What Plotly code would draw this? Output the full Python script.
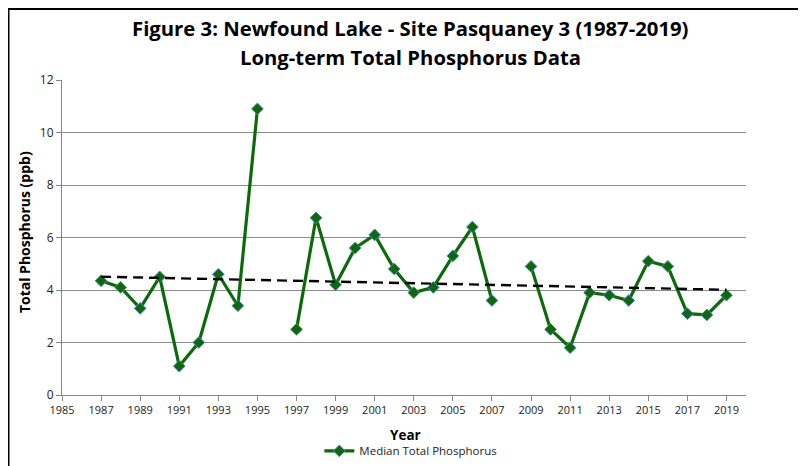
import numpy as np
import plotly.graph_objects as go

years = list(range(1987, 2020))
median_tp = [4.35, 4.1, 3.3, 4.5, 1.1, 2.0, 4.6, 3.4, 10.9, None,
             2.5, 6.75, 4.2, 5.6, 6.1, 4.8, 3.9, 4.1, 5.3, 6.4,
             3.6, None, 4.9, 2.5, 1.8, 3.9, 3.8, 3.6, 5.1, 4.9,
             3.1, 3.05, 3.8]
x_ticks = list(range(1985, 2021, 2))
y_ticks = [0, 2, 4, 6, 8, 10, 12]
title_lines = ["Figure 3: Newfound Lake - Site Pasquaney 3 (1987-2019)",
               "Long-term Total Phosphorus Data"]
x_title = "Year"
y_title = "Total Phosphorus (ppb)"

# linear trendline fit from the data
xv = np.array([y for y, v in zip(years, median_tp) if v is not None], dtype=float)
yv = np.array([v for v in median_tp if v is not None], dtype=float)
slope, intercept = np.polyfit(xv, yv, 1)
trend_x = [years[0], years[-1]]
trend_y = [slope * x + intercept for x in trend_x]

FONT = "Open Sans, Liberation Sans, sans-serif"

fig = go.Figure()
fig.add_trace(go.Scatter(
    x=years, y=median_tp, mode="lines+markers", name="Median Total Phosphorus",
    connectgaps=False,
    line=dict(color="#0b6b0b", width=3.2),
    marker=dict(symbol="diamond", size=9, color="#0b6b0b",
                line=dict(color="#4f81bd", width=1)),
))
fig.add_trace(go.Scatter(
    x=trend_x, y=trend_y, mode="lines", showlegend=False, hoverinfo="skip",
    line=dict(color="black", width=2.4, dash="10px,6px"),
))

fig.update_layout(
    width=798, height=458,
    paper_bgcolor="white", plot_bgcolor="white",
    margin=dict(l=54, r=60, t=72, b=71, autoexpand=False),
    font=dict(family=FONT, size=12, color="#222"),
    xaxis=dict(
        range=[1985, 2020], tickvals=x_ticks, ticktext=[str(t) for t in x_ticks],
        showgrid=False, zeroline=False, automargin=False,
        showline=True, linecolor="#868686", linewidth=1,
        ticks="outside", ticklen=5, tickcolor="#868686",
        tickfont=dict(size=11, color="#222"),
    ),
    yaxis=dict(
        range=[0, 12], tickvals=y_ticks,
        showgrid=True, gridcolor="#8c8c8c", gridwidth=1, zeroline=False, automargin=False,
        showline=True, linecolor="#868686", linewidth=1,
        ticks="outside", ticklen=5, tickcolor="#868686",
        tickfont=dict(size=12, color="#222"),
    ),
    legend=dict(orientation="h", x=0.51, xanchor="center", yref="container",
                y=0.033, yanchor="middle",
                font=dict(size=11.5, color="#222"), bgcolor="rgba(0,0,0,0)"),
    annotations=[
        dict(text=title_lines[0], xref="paper", yref="paper", x=0.509, y=1.165,
             xanchor="center", yanchor="middle", showarrow=False,
             font=dict(family=FONT, size=20.3, color="black", weight="bold")),
        dict(text=title_lines[1], xref="paper", yref="paper", x=0.509, y=1.073,
             xanchor="center", yanchor="middle", showarrow=False,
             font=dict(family=FONT, size=20.3, color="black", weight="bold")),
        dict(text=x_title, xref="paper", yref="paper", x=0.5015, y=-0.127,
             xanchor="center", yanchor="middle", showarrow=False,
             font=dict(family=FONT, size=13.5, color="black", weight="bold")),
        dict(text=y_title, xref="paper", yref="paper", x=-0.0556, y=0.517,
             xanchor="center", yanchor="middle", showarrow=False, textangle=-90,
             font=dict(family=FONT, size=14, color="black", weight="bold")),
    ],
    shapes=[
        dict(type="line", xref="paper", yref="paper", x0=-0.09, x1=1.1, y0=1.227, y1=1.227,
             line=dict(color="black", width=3)),
        dict(type="line", xref="paper", yref="paper", x0=-0.0782, x1=-0.0782, y0=-0.26, y1=1.23,
             line=dict(color="black", width=2)),
    ],
)

fig.write_html("out.html")
